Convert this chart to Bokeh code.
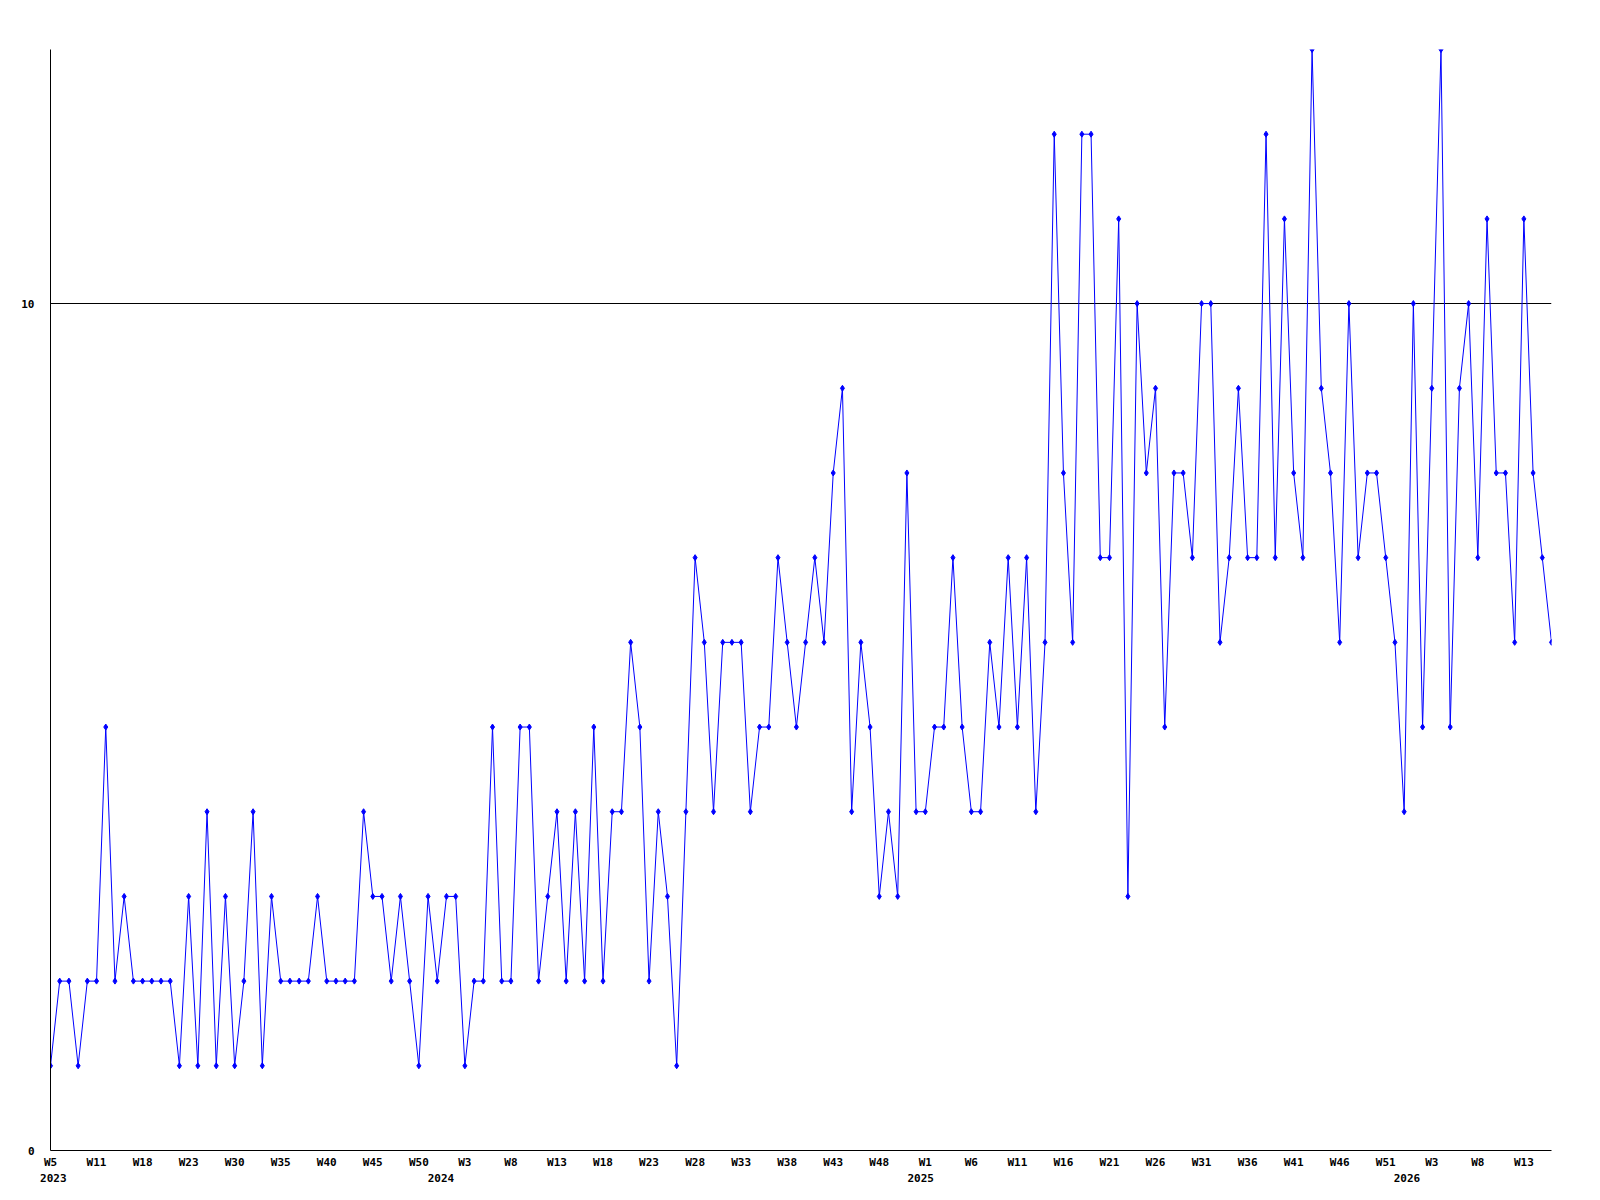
from bokeh.plotting import figure
from bokeh.models import FixedTicker, LinearAxis, Range1d, ColumnDataSource
from bokeh.embed import file_html
from bokeh.resources import INLINE

# weekly values, 2023-W5 .. 2026-W16
values = [
    1, 2, 2, 1, 2, 2, 5, 2, 3, 2, 2, 2, 2, 2, 1, 3, 1, 4, 1, 3, 1, 2, 4, 1, 3, 2, 2, 2, 2, 3,
    2, 2, 2, 2, 4, 3, 3, 2, 3, 2, 1, 3, 2,
    3, 3, 1, 2, 2, 5, 2, 2, 5, 5, 2, 3, 4, 2, 4, 2, 5, 2, 4, 4, 6, 5, 2, 4, 3, 1, 4, 7, 6, 4,
    6, 6, 6, 4, 5, 5, 7, 6, 5, 6, 7,
    6, 8, 9, 4, 6, 5, 3, 4, 3, 8, 4, 4, 5, 5, 7, 5, 4, 4, 6, 5, 7, 5, 7, 4, 6, 12, 8, 6, 12, 12,
    7, 7, 11, 3, 10, 8, 9, 5, 8, 8, 7, 10,
    10, 6, 7, 9, 7, 7, 12, 7, 11, 8, 7, 13, 9, 8, 6, 10, 7, 8, 8, 7, 6, 4, 10, 5, 9, 13, 5, 9,
    10, 7, 11, 8, 8, 6, 11, 8, 7, 6,
]
week_index = list(range(len(values)))

# x tick labels: every 5th point
week_labels = ["W5", "W11", "W18", "W23", "W30", "W35", "W40", "W45", "W50", "W3",
               "W8", "W13", "W18", "W23", "W28", "W33", "W38", "W43", "W48", "W1",
               "W6", "W11", "W16", "W21", "W26", "W31", "W36", "W41", "W46", "W51",
               "W3", "W8", "W13"]
week_ticks = [5 * i for i in range(len(week_labels))]

year_labels = ["2023", "2024", "2025", "2026"]
year_ticks = [0.3, 42.4, 94.5, 147.3]

y_ticks = [0, 10]

FONT = "DejaVu Sans Mono"

p = figure(width=1600, height=1200,
           x_range=Range1d(0, len(values) - 1), y_range=Range1d(0, 13),
           output_backend="svg", toolbar_location=None,
           min_border_left=50, min_border_right=49, min_border_top=49, min_border_bottom=50,
           x_axis_location=None, y_axis_location=None)
p.outline_line_color = None
p.background_fill_color = "white"
p.border_fill_color = "white"

def style_axis(ax, size="11px", standoff=5):
    ax.axis_line_color = "black"
    ax.axis_line_width = 1
    ax.major_tick_line_color = None
    ax.minor_tick_line_color = None
    ax.major_tick_out = 0
    ax.major_tick_in = 0
    ax.minor_tick_out = 0
    ax.minor_tick_in = 0
    ax.major_label_text_font = FONT
    ax.major_label_text_font_style = "bold"
    ax.major_label_text_font_size = size
    ax.major_label_text_color = "black"
    ax.major_label_standoff = standoff

# bottom week axis
xa = LinearAxis(ticker=FixedTicker(ticks=week_ticks, minor_ticks=[]),
                major_label_overrides={t: l for t, l in zip(week_ticks, week_labels)})
style_axis(xa, standoff=5)
p.add_layout(xa, "below")

# year axis below it
ya_year = LinearAxis(ticker=FixedTicker(ticks=year_ticks, minor_ticks=[]),
                     major_label_overrides={t: l for t, l in zip(year_ticks, year_labels)})
style_axis(ya_year, standoff=2)
ya_year.axis_line_color = None
p.add_layout(ya_year, "below")

# left axis
la = LinearAxis(ticker=FixedTicker(ticks=y_ticks, minor_ticks=[]),
                major_label_overrides={0: "0", 10: "10"})
style_axis(la, standoff=16)
p.add_layout(la, "left")

p.xgrid.grid_line_color = None
p.xgrid.visible = False
p.ygrid.ticker = FixedTicker(ticks=[10], minor_ticks=[])
p.ygrid.grid_line_color = "black"
p.ygrid.grid_line_alpha = 1.0
p.ygrid.grid_line_width = 1

src = ColumnDataSource(dict(x=week_index, y=values))
p.line("x", "y", source=src, line_color="#0000FF", line_width=1)
p.scatter("x", "y", source=src, marker="diamond", size=6,
          fill_color="#0000FF", line_color="#0000FF")

open("out.html", "w").write(file_html(p, INLINE))
